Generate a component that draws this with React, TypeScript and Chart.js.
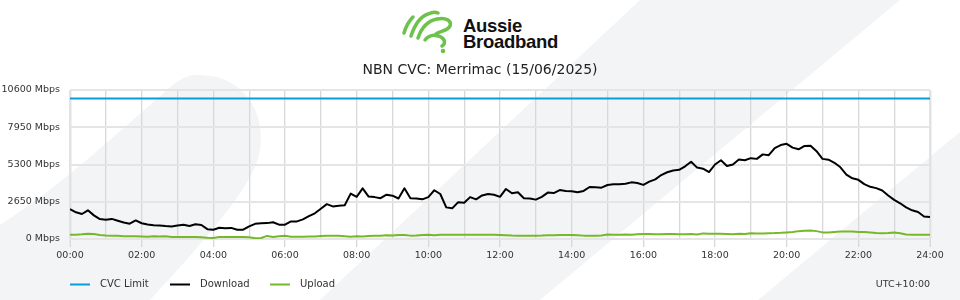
import React, { useEffect, useRef } from 'react';
import { Chart, registerables } from 'chart.js';

Chart.register(...registerables);

const chartTitle = 'NBN CVC: Merrimac (15/06/2025)';
const timezoneLabel = 'UTC+10:00';
const brandLines = ['Aussie', 'Broadband'];
const seriesNames = ['CVC Limit', 'Download', 'Upload'];
const seriesColors = ['#0b9bd9', '#000000', '#76b82a'];
const xTickLabels = ['00:00', '02:00', '04:00', '06:00', '08:00', '10:00', '12:00', '14:00', '16:00', '18:00', '20:00', '22:00', '24:00'];
const yTickValues = [0, 2650, 5300, 7950, 10600];
const cvcLimitMbps = 10000;
const sampleStepMinutes = 10;

const downloadMbps = [
  2120, 1900, 1780, 2040, 1680, 1420, 1370, 1430, 1300, 1180,
  1090, 1320, 1120, 1030, 970, 960, 920, 890, 960, 1020,
  930, 1050, 1000, 700, 660, 800, 760, 790, 660, 660,
  900, 1080, 1120, 1130, 1190, 1020, 1020, 1250, 1250, 1400,
  1620, 1830, 2150, 2480, 2320, 2360, 2400, 3230, 3000, 3600,
  3020, 2980, 2900, 3150, 3080, 2880, 3610, 2900, 2880, 2820,
  2980, 3470, 3200, 2250, 2180, 2620, 2580, 2980, 2820, 3100,
  3200, 3150, 3000, 3560, 3250, 3330, 2900, 2880, 2800, 3000,
  3300, 3270, 3480, 3420, 3390, 3320, 3420, 3700, 3690, 3650,
  3840, 3900, 3900, 3930, 4030, 3980, 3850, 4080, 4240, 4550,
  4750, 4870, 4920, 5170, 5500, 5080, 5000, 4760, 5300, 5600,
  5200, 5300, 5650, 5600, 5750, 5700, 6020, 5960, 6470, 6680,
  6770, 6500, 6380, 6620, 6640, 6250, 5700, 5640, 5420, 5100,
  4580, 4320, 4210, 3900, 3710, 3620, 3450, 3100, 2780, 2540,
  2250, 2040, 1920, 1600, 1560,
];

const uploadMbps = [
  300, 310, 330, 380, 360, 280, 250, 240, 230, 190,
  200, 190, 180, 160, 200, 170, 190, 150, 150, 150,
  140, 150, 130, 90, 70, 150, 150, 150, 150, 150,
  120, 60, 70, 220, 150, 200, 230, 160, 160, 160,
  170, 180, 220, 230, 230, 230, 200, 160, 190, 180,
  220, 230, 230, 270, 250, 290, 290, 240, 250, 290,
  300, 260, 310, 300, 310, 300, 300, 310, 310, 300,
  310, 300, 290, 270, 250, 240, 230, 240, 240, 250,
  270, 260, 280, 290, 290, 270, 240, 240, 230, 250,
  320, 310, 300, 320, 300, 340, 350, 350, 340, 330,
  360, 350, 340, 330, 360, 320, 400, 380, 380, 370,
  360, 330, 370, 360, 410, 390, 390, 410, 420, 440,
  470, 500, 560, 590, 600, 560, 470, 470, 500, 530,
  540, 530, 500, 490, 460, 430, 410, 430, 470, 410,
  320, 310, 300, 300, 300,
];

const FONT = '"DejaVu Sans", sans-serif';

const overlayPlugin = {
  id: 'overlayText',
  afterDraw(chart: any) {
    const { ctx, chartArea } = chart;
    ctx.save();
    ctx.fillStyle = '#222';
    ctx.font = `14px ${FONT}`;
    ctx.textAlign = 'center';
    ctx.textBaseline = 'middle';
    ctx.fillText(chartTitle, chart.width / 2, 70);

    ctx.font = `10px ${FONT}`;
    ctx.textAlign = 'left';
    const ly = 284.5;
    chart.data.datasets.forEach((ds: any, i: number) => {
      const x0 = chartArea.left + i * 100;
      ctx.strokeStyle = ds.borderColor;
      ctx.lineWidth = 2;
      ctx.beginPath();
      ctx.moveTo(x0, ly);
      ctx.lineTo(x0 + 20, ly);
      ctx.stroke();
      ctx.fillStyle = '#333';
      ctx.fillText(ds.label, x0 + 30, ly);
    });
    ctx.textAlign = 'right';
    ctx.font = `9.5px ${FONT}`;
    ctx.fillText(timezoneLabel, chartArea.right, ly);
    ctx.restore();
  },
};

function Background() {
  const grey = '#f3f4f6';
  return (
    <svg width={960} height={300} style={{ position: 'absolute', left: 0, top: 0 }}>
      <rect x={0} y={0} width={960} height={300} fill="#ffffff" />
      <path
        d="M0,225 C55,190 110,140 150,105 C170,88 180,76 195,75 C242,73 266,110 260,150 C255,185 205,240 150,300 L0,300 Z"
        fill={grey}
      />
      <polygon points="640,0 900,0 540,300 320,300" fill={grey} />
      <polygon points="960,132 960,300 758,300" fill={grey} />
      <g fill="none" stroke="#6cc24a" strokeWidth={3.5} strokeLinecap="round" strokeLinejoin="round">
        <path d="M404,33 C406,26 409,21 413,17" />
        <path d="M411,36 C414,27 419,17 428,14 C432,12 436,12 438,13" />
        <path d="M418,38 C421,29 427,21 437,19 C446,17 452,21 450,26 C448,31 439,31 436,34" />
        <path d="M425,40 C429,35 435,34 441,37 C446,40 445,44 442,46" />
      </g>
      <circle cx={443} cy={51} r={2.3} fill="#6cc24a" />
      <g fontFamily='"Liberation Sans", Arial, sans-serif' fontWeight="bold" fontSize={18.5} fill="#111">
        <text x={463} y={32} letterSpacing={-0.3}>{brandLines[0]}</text>
        <text x={463} y={48} letterSpacing={-0.3}>{brandLines[1]}</text>
      </g>
    </svg>
  );
}

export default function App() {
  const canvasRef = useRef<HTMLCanvasElement | null>(null);

  useEffect(() => {
    const toPoints = (arr: number[]) =>
      arr.map((v, i) => ({ x: (i * sampleStepMinutes) / 60, y: v }));

    const edgeX = (c: any) => (c.tick && (c.tick.value === 0 || c.tick.value === 24) ? 2.5 : 1.3);
    const chart = new Chart(canvasRef.current as HTMLCanvasElement, {
      type: 'line',
      data: {
        datasets: [
          {
            label: seriesNames[0],
            data: [
              { x: 0, y: cvcLimitMbps },
              { x: 24, y: cvcLimitMbps },
            ],
            borderColor: seriesColors[0],
            backgroundColor: seriesColors[0],
            borderWidth: 2,
            pointRadius: 0,
          },
          {
            label: seriesNames[1],
            data: toPoints(downloadMbps),
            borderColor: seriesColors[1],
            backgroundColor: seriesColors[1],
            borderWidth: 2,
            pointRadius: 0,
            borderJoinStyle: 'round',
          },
          {
            label: seriesNames[2],
            data: toPoints(uploadMbps),
            borderColor: seriesColors[2],
            backgroundColor: seriesColors[2],
            borderWidth: 2,
            pointRadius: 0,
            borderJoinStyle: 'round',
          },
        ],
      },
      options: {
        animation: false,
        responsive: true,
        maintainAspectRatio: false,
        layout: { padding: { top: 90, right: 30, bottom: 31, left: 0 } },
        plugins: {
          legend: { display: false },
          title: { display: false },
          tooltip: { enabled: false },
        },
        scales: {
          x: {
            type: 'linear',
            min: 0,
            max: 24,
            afterFit: (s: any) => {
              s.height = 30;
            },
            ticks: {
              stepSize: 1,
              autoSkip: false,
              maxRotation: 0,
              padding: 3,
              color: '#333',
              font: { family: FONT, size: 9.5 },
              callback: (v: any) => (Number(v) % 2 === 0 ? xTickLabels[Number(v) / 2] : ''),
            },
            grid: {
              color: (c: any) => (c.tick && (c.tick.value === 0 || c.tick.value === 24) ? '#e2e2e2' : '#d8d8d8'),
              lineWidth: edgeX,
              tickLength: 8,
              tickColor: (c: any) => (c.tick && c.tick.value % 2 === 0 ? '#d8d8d8' : 'rgba(0,0,0,0)'),
              tickWidth: 1.3,
            },
            border: { display: false },
          },
          y: {
            min: 0,
            max: 10600,
            afterFit: (s: any) => {
              s.width = 70;
            },
            afterBuildTicks: (s: any) => {
              s.ticks = yTickValues.map((v) => ({ value: v }));
            },
            ticks: {
              padding: 10,
              color: '#333',
              font: { family: FONT, size: 9.5 },
              callback: (v: any) => `${v} Mbps`,
            },
            grid: {
              color: '#e5e5e5',
              lineWidth: 2,
              drawTicks: false,
            },
            border: { display: false },
          },
        },
      },
      plugins: [overlayPlugin],
    } as any);
    return () => chart.destroy();
  }, []);

  return (
    <div style={{ position: 'fixed', left: 0, top: 0, width: 960, height: 300, overflow: 'hidden' }}>
      <Background />
      <div style={{ position: 'absolute', left: 0, top: 0, width: 960, height: 300 }}>
        <canvas ref={canvasRef} />
      </div>
    </div>
  );
}
